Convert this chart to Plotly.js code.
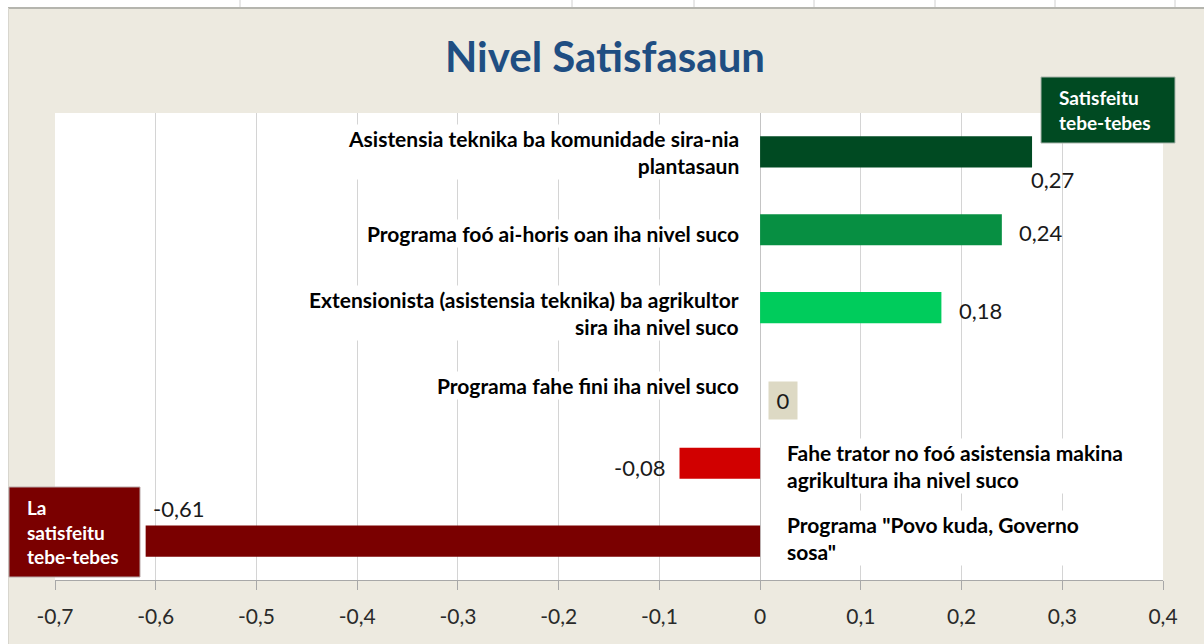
<!DOCTYPE html>
<html>
<head>
<meta charset="utf-8">
<script src="https://cdn.plot.ly/plotly-3.0.1.min.js"></script>
<style>
  html, body { margin: 0; padding: 0; background: #ffffff; }
  #chart { width: 1204px; height: 644px; }
</style>
</head>
<body>
<div id="chart"></div>
<script>
// ---- data ----
const categories = [
  "Asistensia teknika ba komunidade sira-nia<br>plantasaun",
  "Programa foó ai-horis oan iha nivel suco",
  "Extensionista (asistensia teknika) ba agrikultor<br>sira iha nivel suco",
  "Programa fahe fini iha nivel suco",
  "Fahe trator no foó asistensia makina<br>agrikultura iha nivel suco",
  "Programa \"Povo kuda, Governo<br>sosa\""
];
const values = [0.27, 0.24, 0.18, 0, -0.08, -0.61];
const valueLabels = ["0,27", "0,24", "0,18", "0", "-0,08", "-0,61"];
const tickValues = [-0.7, -0.6, -0.5, -0.4, -0.3, -0.2, -0.1, 0, 0.1, 0.2, 0.3, 0.4];
const tickLabels = ["-0,7", "-0,6", "-0,5", "-0,4", "-0,3", "-0,2", "-0,1", "0", "0,1", "0,2", "0,3", "0,4"];
const chartTitle = "Nivel Satisfasaun";
const topLegendText = "Satisfeitu<br>tebe-tebes";
const bottomLegendText = "La<br>satisfeitu<br>tebe-tebes";

// ---- style ----
const FONT = "Lato, 'Open Sans', sans-serif";
const barColors = ["#004A22", "#078F42", "#00CC5C", "#DDD9C4", "#D10000", "#7A0000"];
const catIdx = categories.map((_, i) => i);

// per-label offsets (px) for category labels and value labels
const catShift = [
  {side: "left", dy: 0}, {side: "left", dy: -4}, {side: "left", dy: -5},
  {side: "left", dy: 0}, {side: "right", dy: -3}, {side: "right", dy: 3}
];
const valShift = [
  {anchor: "left", dx: -3, dy: -28},
  {anchor: "left", dx: 15, dy: -3},
  {anchor: "left", dx: 16, dy: -3},
  {anchor: "left", dx: 8, dy: -15},
  {anchor: "right", dx: -13, dy: -4},
  {anchor: "left", dx: 5, dy: 33}
];

const trace = {
  type: "bar",
  orientation: "h",
  x: values,
  y: catIdx,
  width: 0.4,
  marker: { color: barColors, line: { width: 0 } },
  hoverinfo: "skip"
};

const annotations = [];
categories.forEach((c, i) => {
  const s = catShift[i];
  annotations.push({
    x: 0, y: i, xref: "x", yref: "y",
    text: c, showarrow: false,
    xanchor: s.side === "left" ? "right" : "left",
    align: s.side === "left" ? "right" : "left",
    xshift: s.side === "left" ? -19 : 25,
    yshift: s.dy,
    bgcolor: "#ffffff",
    font: { family: FONT, size: 21, color: "#000000", weight: 700 }
  });
});
values.forEach((v, i) => {
  const s = valShift[i];
  const a = {
    x: v, y: i, xref: "x", yref: "y",
    text: valueLabels[i], showarrow: false,
    xanchor: s.anchor, xshift: s.dx, yshift: s.dy,
    font: { family: FONT, size: 22, color: "#1a1a1a" }
  };
  if (v === 0) {
    a.bgcolor = "#DDD9C4";
    a.width = 20; a.height = 29; a.borderpad = 4;
  }
  annotations.push(a);
});

// legend-like boxes
const W = 1108, H = 467, L = 55, B = 580;
const px = (p) => (p - L) / W;
const py = (p) => (B - p) / H;
annotations.push({
  xref: "paper", yref: "paper", x: px(1057), y: py(110),
  xanchor: "left", yanchor: "middle", align: "left",
  text: topLegendText, showarrow: false,
  font: { family: FONT, size: 19, color: "#ffffff", weight: 700 }
});
annotations.push({
  xref: "paper", yref: "paper", x: px(25), y: py(532),
  xanchor: "left", yanchor: "middle", align: "left",
  text: bottomLegendText, showarrow: false,
  font: { family: FONT, size: 19, color: "#ffffff", weight: 700 }
});

const shapes = [
  // white strip at the top
  { type: "rect", xref: "paper", yref: "paper", x0: px(0), x1: px(1204), y0: py(7), y1: py(0),
    fillcolor: "#ffffff", line: { width: 0 }, layer: "below" },
  { type: "rect", xref: "paper", yref: "paper", x0: px(0), x1: px(8), y0: py(644), y1: py(0),
    fillcolor: "#ffffff", line: { width: 0 }, layer: "below" },
  { type: "line", xref: "paper", yref: "paper", x0: px(8), x1: px(1204), y0: py(8), y1: py(8),
    line: { color: "#B5B5AE", width: 2 } },
  { type: "line", xref: "paper", yref: "paper", x0: px(8.5), x1: px(8.5), y0: py(644), y1: py(8),
    line: { color: "#D8D6CE", width: 1 } },
  // legend boxes
  { type: "rect", xref: "paper", yref: "paper", x0: px(1041), x1: px(1175), y0: py(143), y1: py(77),
    fillcolor: "#004A22", line: { color: "#A9B5AC", width: 1 } },
  { type: "rect", xref: "paper", yref: "paper", x0: px(9), x1: px(140), y0: py(577), y1: py(487),
    fillcolor: "#7A0000", line: { color: "#B8A8A8", width: 1 } }
];
[240, 572, 694, 814, 935, 1055, 1175].forEach(x => {
  shapes.push({ type: "line", xref: "paper", yref: "paper", x0: px(x), x1: px(x), y0: py(7), y1: py(0),
    line: { color: "#D0D0D0", width: 1 } });
});

const layout = {
  width: 1204, height: 644,
  paper_bgcolor: "#EDEAE0",
  plot_bgcolor: "#ffffff",
  margin: { l: 55, r: 41, t: 113, b: 64, pad: 0 },
  showlegend: false,
  title: {
    text: "<b>" + chartTitle + "</b>",
    x: 0.5025, xanchor: "center",
    y: 1 - 57 / 644, yref: "container", yanchor: "middle",
    font: { family: FONT, size: 42, color: "#1F4E82" }
  },
  xaxis: {
    range: [-0.7, 0.4],
    tickvals: tickValues, ticktext: tickLabels,
    showgrid: true, gridcolor: "#D4D4D4", gridwidth: 1,
    zeroline: true, zerolinecolor: "#C4C4C4", zerolinewidth: 1,
    showline: true, linecolor: "#A8A8A8", linewidth: 1,
    ticks: "outside", ticklen: 9, tickcolor: "#A8A8A8", tickwidth: 1,
    ticklabelstandoff: 9,
    tickfont: { family: FONT, size: 21, color: "#2a2a2a" },
    fixedrange: true
  },
  yaxis: {
    range: [5.5, -0.5],
    showticklabels: false, showgrid: false, zeroline: false, showline: false,
    ticks: "", fixedrange: true
  },
  annotations: annotations,
  shapes: shapes,
  bargap: 0.6
};

Plotly.newPlot("chart", [trace], layout, { displayModeBar: false, staticPlot: true });
</script>
</body>
</html>
